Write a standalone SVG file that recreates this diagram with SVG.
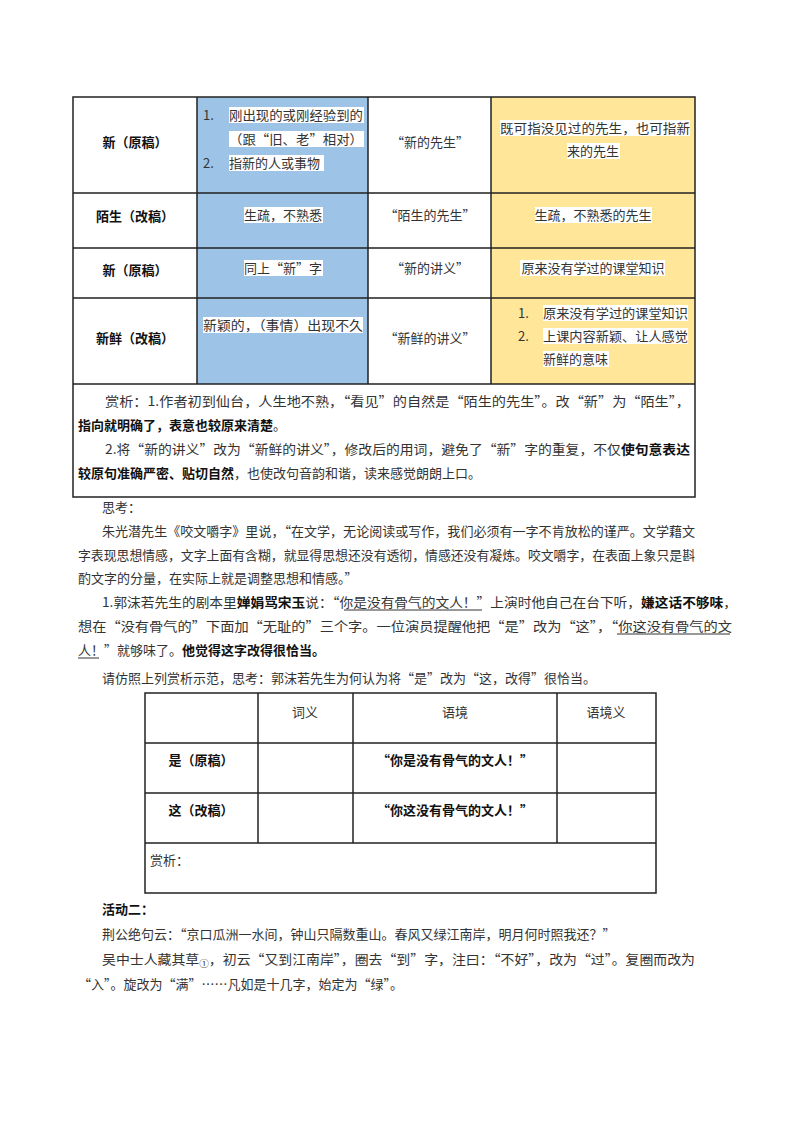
<svg xmlns="http://www.w3.org/2000/svg" width="800" height="1132" viewBox="0 0 800 1132">
<style>
text{font-family:"Noto Sans CJK SC","Liberation Sans",sans-serif;font-size:13px;fill:#333}
.b{font-weight:bold;fill:#111}
.c{text-anchor:middle}
.grid{stroke:#222;stroke-width:1.5;fill:none}
.hl{fill:#fff}
.ul{stroke:#333;stroke-width:1}
</style>
<rect width="800" height="1132" fill="#fff"/>
<g id="table1">
<rect x="197" y="97" width="171" height="287" fill="#9DC3E6"/>
<rect x="491" y="97" width="204" height="287" fill="#FFE699"/>
<g class="hl">
<rect x="229" y="107" width="135" height="16"/><rect x="229" y="131" width="135" height="16"/><rect x="229" y="155" width="95" height="16"/>
<rect x="244" y="207" width="79" height="16"/><rect x="244" y="260" width="79" height="16"/><rect x="203" y="317" width="160" height="16"/>
<rect x="500" y="120" width="190" height="16"/><rect x="567" y="143" width="53" height="16"/><rect x="535" y="207" width="117" height="16"/>
<rect x="520" y="260" width="145" height="16"/><rect x="543" y="305" width="145" height="16"/><rect x="543" y="328" width="145" height="16"/><rect x="543" y="351" width="66" height="16"/>
</g>
<path class="grid" d="M73 97H695V497H73Z M73 193H695 M73 248H695 M73 298H695 M73 384H695 M197 97V384 M368 97V384 M491 97V384"/>
<text class="b c" x="135" y="147">新（原稿）</text>
<text class="b c" x="135" y="221">陌生（改稿）</text>
<text class="b c" x="135" y="275">新（原稿）</text>
<text class="b c" x="135" y="343">新鲜（改稿）</text>
<text x="203" y="120">1.</text><text x="229" y="120" textLength="134" lengthAdjust="spacingAndGlyphs">刚出现的或刚经验到的</text>
<text x="229" y="144" textLength="134" lengthAdjust="spacingAndGlyphs">（跟“旧、老”相对）</text>
<text x="203" y="168">2.</text><text x="229" y="168">指新的人或事物</text>
<text class="c" x="283" y="220">生疏，不熟悉</text>
<text class="c" x="283" y="273">同上“新”字</text>
<text x="203" y="330" textLength="160" lengthAdjust="spacingAndGlyphs">新颖的，（事情）出现不久</text>
<text class="c" x="430" y="147">“新的先生”</text>
<text class="c" x="430" y="220">“陌生的先生”</text>
<text class="c" x="430" y="273">“新的讲义”</text>
<text class="c" x="430" y="343">“新鲜的讲义”</text>
<text x="500" y="133" textLength="190" lengthAdjust="spacingAndGlyphs">既可指没见过的先生，也可指新</text>
<text class="c" x="593" y="156">来的先生</text>
<text class="c" x="593" y="220">生疏，不熟悉的先生</text>
<text class="c" x="593" y="273">原来没有学过的课堂知识</text>
<text x="518" y="318">1.</text><text x="543" y="318" textLength="145" lengthAdjust="spacingAndGlyphs">原来没有学过的课堂知识</text>
<text x="518" y="341">2.</text><text x="543" y="341" textLength="145" lengthAdjust="spacingAndGlyphs">上课内容新颖、让人感觉</text>
<text x="543" y="364">新鲜的意味</text>
<text x="105" y="406" textLength="585" lengthAdjust="spacingAndGlyphs">赏析：1.作者初到仙台，人生地不熟，“看见”的自然是“陌生的先生”。改“新”为“陌生”，</text>
<text x="78" y="430"><tspan class="b">指向就明确了，表意也较原来清楚</tspan>。</text>
<text x="105" y="454" textLength="585" lengthAdjust="spacingAndGlyphs">2.将“新的讲义”改为“新鲜的讲义”，修改后的用词，避免了“新”字的重复，不仅<tspan class="b">使句意表达</tspan></text>
<text x="78" y="478"><tspan class="b">较原句准确严密、贴切自然</tspan>，也使改句音韵和谐，读来感觉朗朗上口。</text>
</g>
<g id="body1">
<text x="102" y="512">思考：</text>
<text x="102" y="536" textLength="593" lengthAdjust="spacingAndGlyphs">朱光潜先生《咬文嚼字》里说，“在文学，无论阅读或写作，我们必须有一字不肯放松的谨严。文学藉文</text>
<text x="78" y="560" textLength="617" lengthAdjust="spacingAndGlyphs">字表现思想情感，文字上面有含糊，就显得思想还没有透彻，情感还没有凝炼。咬文嚼字，在表面上象只是斟</text>
<text x="78" y="583">酌文字的分量，在实际上就是调整思想和情感。”</text>
<text x="102" y="607" textLength="635" lengthAdjust="spacingAndGlyphs">1.郭沫若先生的剧本里<tspan class="b">婵娟骂宋玉</tspan>说：“你是没有骨气的文人！”上演时他自己在台下听，<tspan class="b">嫌这话不够味</tspan>，</text>
<text x="78" y="631" textLength="654" lengthAdjust="spacingAndGlyphs">想在“没有骨气的”下面加“无耻的”三个字。一位演员提醒他把“是”改为“这”，“你这没有骨气的文</text>
<text x="78" y="655">人！”就够味了。<tspan class="b">他觉得这字改得很恰当。</tspan></text>
<path class="ul" d="M344 610H482 M617 634H730 M78 658H99"/>
<text x="102" y="683">请仿照上列赏析示范，思考：郭沫若先生为何认为将“是”改为“这，改得”很恰当。</text>
</g>
<g id="table2">
<path class="grid" d="M145 693H656V893H145Z M145 743H656 M145 793H656 M145 843H656 M258 693V843 M353 693V843 M557 693V843"/>
<text class="c" x="305" y="717">词义</text>
<text class="c" x="455" y="717">语境</text>
<text class="c" x="606" y="717">语境义</text>
<text class="b c" x="201" y="765">是（原稿）</text>
<text class="b c" x="455" y="765">“你是没有骨气的文人！”</text>
<text class="b c" x="201" y="815">这（改稿）</text>
<text class="b c" x="455" y="815">“你这没有骨气的文人！”</text>
<text x="150" y="865">赏析：</text>
</g>
<g id="body2">
<text class="b" x="102" y="914">活动二：</text>
<text x="102" y="939">荆公绝句云：“京口瓜洲一水间，钟山只隔数重山。春风又绿江南岸，明月何时照我还？”</text>
<text x="102" y="964" textLength="593" lengthAdjust="spacingAndGlyphs">吴中士人藏其草<tspan font-size="9" dy="3">①</tspan><tspan dy="-3">，初云“又到江南岸”，圈去“到”字，注曰：“不好”，改为“过”。复圈而改为</tspan></text>
<text x="78" y="989">“入”。旋改为“满”……凡如是十几字，始定为“绿”。</text>
</g>
</svg>
